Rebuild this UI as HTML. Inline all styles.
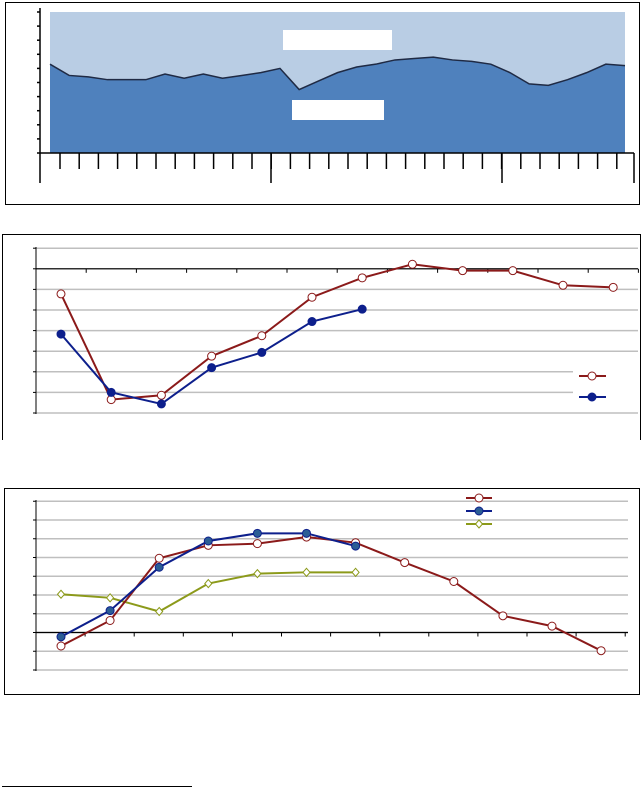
<!DOCTYPE html>
<html><head><meta charset="utf-8"><style>
body{margin:0;background:#fff;width:643px;height:801px;overflow:hidden;font-family:"Liberation Sans",sans-serif}
svg{position:absolute;left:0;top:0}
</style></head><body>
<svg id="s" width="643" height="801">
<rect x="5.5" y="2.5" width="634" height="202" fill="none" stroke="#000"/>
<path d="M2.5,440 V234.5 H640.5 V440" fill="none" stroke="#000"/>
<rect x="4.5" y="488.5" width="635" height="206" fill="none" stroke="#000"/>
<line x1="2" y1="786.5" x2="192" y2="786.5" stroke="#000"/>
<g id="c1"></g>
<g id="c2"></g>
<g id="c3"></g>
</svg>
<script>
const areaValues=[63,55,54,52,52,52,56,53,56,53,55,57,60,45,51,57,61,63,66,67,68,66,65,63,57,49,48,52,57,63,62];
const c2Red=[5.78,0.65,0.86,2.76,3.75,5.62,6.56,7.22,6.91,6.91,6.2,6.1];
const c2Blue=[3.83,1.0,0.44,2.2,2.94,4.44,5.04];
const c3Red=[1.28,2.64,5.96,6.65,6.74,7.09,6.79,5.73,4.72,2.89,2.34,1.03];
const c3Blue=[1.77,3.17,5.48,6.88,7.29,7.29,6.61];
const c3Olive=[4.04,3.85,3.12,4.61,5.14,5.21,5.21];
const NS='http://www.w3.org/2000/svg';
function mk(p,t,a){const e=document.createElementNS(NS,t);for(const k in a)e.setAttribute(k,a[k]);p.appendChild(e);return e;}
// chart 1
(function(){
const g=document.getElementById('c1');
const x=i=>50+i*(575/(areaValues.length-1));const y=v=>153-v/100*141;
const bg=mk(g,'rect',{x:50,y:12,width:575,height:141,fill:'#b9cde4'});

let d='M50,153 ';areaValues.forEach((v,i)=>d+='L'+x(i)+','+y(v)+' ');d+='L625,153Z';
const a=mk(g,'path',{d:d,fill:'#4f81bd'});

let l='';areaValues.forEach((v,i)=>l+=(i?'L':'M')+x(i)+','+y(v));
const ln=mk(g,'path',{d:l,fill:'none',stroke:'#1f2a44','stroke-width':1.5});

const b1=mk(g,'rect',{x:283,y:30,width:109,height:20,fill:'#fff'});

const b2=mk(g,'rect',{x:292,y:100,width:92,height:20,fill:'#fff'});

const ax=mk(g,'path',{d:'M40,8V153H634',fill:'none',stroke:'#000','stroke-width':1.5});

for(let k=0;k<=10;k++){const t=mk(g,'line',{x1:37,x2:40,y1:12+k*14.1,y2:12+k*14.1,stroke:'#000','stroke-width':1.5});
}
for(let k=0;k<30;k++){const xx=60+k*19.2;const t=mk(g,'line',{x1:xx,x2:xx,y1:153,y2:169,stroke:'#000','stroke-width':1.5});
}
[40,271,502,634].forEach(xx=>{const t=mk(g,'line',{x1:xx,x2:xx,y1:153,y2:183,stroke:'#000','stroke-width':1.5});
});
})();
function series(g,vals,x,y,color,marker,fillM,name){
let d='';vals.forEach((v,i)=>d+=(i?'L':'M')+x(i)+','+y(v));
const p=mk(g,'path',{d:d,fill:'none',stroke:color,'stroke-width':2});

vals.forEach((v,i)=>drawM(g,x(i),y(v),color,marker,fillM,name));}
function drawM(g,cx,cy,color,marker,fillM,name){let m;
if(marker==='d')m=mk(g,'path',{d:`M${cx},${cy-4}L${cx+3.5},${cy}L${cx},${cy+4}L${cx-3.5},${cy}Z`,fill:fillM,stroke:color,'stroke-width':1});
else m=mk(g,'circle',{cx:cx,cy:cy,r:4,fill:fillM,stroke:color,'stroke-width':1});
}
// chart 2
(function(){
const g=document.getElementById('c2');
const x=i=>61+i*50.2;const y=v=>413-v*20.6;
for(let k=0;k<=8;k++){const yy=413-k*20.6;const xe=(k===1||k===2)?573:638;
const l=mk(g,'line',{x1:36,x2:xe,y1:yy,y2:yy,stroke:'#bfbfbf','stroke-width':1.5});

const t=mk(g,'line',{x1:33,x2:36,y1:yy,y2:yy,stroke:'#000'});
}
const ya=mk(g,'line',{x1:36,x2:36,y1:247,y2:414,stroke:'#000'});

const xa=mk(g,'line',{x1:36,x2:638,y1:y(7),y2:y(7),stroke:'#000','stroke-width':1.2});

for(let k=1;k<=12;k++){const xx=36+k*50.2;const t=mk(g,'line',{x1:xx,x2:xx,y1:y(7),y2:y(7)+4,stroke:'#000'});
}
series(g,c2Red,x,y,'#8b1a1a','o','#fff','red-series');
series(g,c2Blue,x,y,'#0d1f8c','o','#0d1f8c','blue-series');
const l1=mk(g,'line',{x1:579,x2:606,y1:376,y2:376,stroke:'#8b1a1a','stroke-width':2});

drawM(g,592,376,'#8b1a1a','o','#fff','legend-red');
const l2=mk(g,'line',{x1:579,x2:606,y1:397,y2:397,stroke:'#0d1f8c','stroke-width':2});

drawM(g,592,397,'#0d1f8c','o','#0d1f8c','legend-blue');
})();
// chart 3
(function(){
const g=document.getElementById('c3');
const x=i=>61+i*49.1;const y=v=>670-v*18.75;
for(let k=0;k<=9;k++){const yy=670-k*18.75;
const l=mk(g,'line',{x1:36,x2:628,y1:yy,y2:yy,stroke:'#bfbfbf','stroke-width':1.5});

const t=mk(g,'line',{x1:33,x2:36,y1:yy,y2:yy,stroke:'#000'});
}
const ya=mk(g,'line',{x1:36,x2:36,y1:500,y2:671,stroke:'#000'});

const xa=mk(g,'line',{x1:36,x2:628,y1:y(2),y2:y(2),stroke:'#000','stroke-width':1.2});

for(let k=1;k<=12;k++){const xx=36+k*49.1;const t=mk(g,'line',{x1:xx,x2:xx,y1:y(2),y2:y(2)+4,stroke:'#000'});
}
series(g,c3Olive,x,y,'#8c9a1a','d','#fff','olive-series');
series(g,c3Red,x,y,'#8b1a1a','o','#fff','red-series');
series(g,c3Blue,x,y,'#0d1f8c','o','#2b5d95','blue-series');
[['#8b1a1a','o','#fff',498,'legend-red'],['#0d1f8c','o','#2b5d95',511,'legend-blue'],['#8c9a1a','d','#fff',524,'legend-olive']].forEach(a=>{
const l=mk(g,'line',{x1:466,x2:492,y1:a[3],y2:a[3],stroke:a[0],'stroke-width':2});

drawM(g,479,a[3],a[0],a[1],a[2],a[4]);});
})();
</script>
</body></html>
